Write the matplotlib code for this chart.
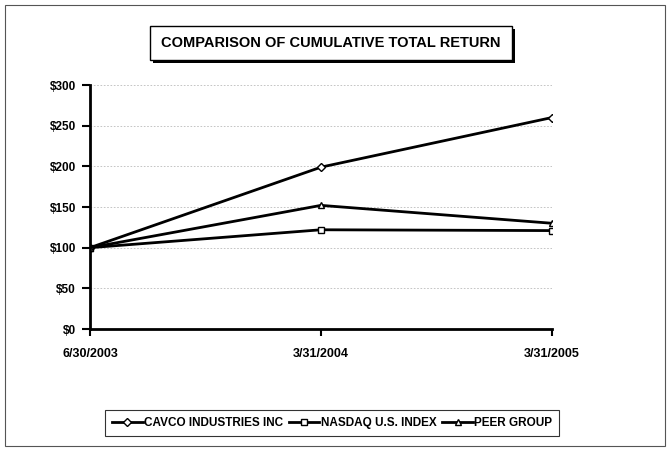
import matplotlib
matplotlib.use("Agg")
import matplotlib.pyplot as plt
from matplotlib.patches import Rectangle

plt.rcParams['font.family'] = ['Liberation Sans', 'DejaVu Sans']

dates = ["6/30/2003", "3/31/2004", "3/31/2005"]
cavco = [100, 199, 260]
nasdaq = [100, 122, 121]
peer = [100, 152, 130]
yticks = [0, 50, 100, 150, 200, 250, 300]
ylabels = ["$0", "$50", "$100", "$150", "$200", "$250", "$300"]

W, H = 670, 451
fig = plt.figure(figsize=(W/100, H/100), dpi=100)
fig.patch.set_facecolor('white')

# outer border
fig.add_artist(Rectangle((5/W, 5/H), 660/W, 441/H, transform=fig.transFigure,
                         fill=False, edgecolor='#555555', lw=0.8))

ax = fig.add_axes([90/W, 1-329/H, 462/W, 244/H])
x = list(range(len(dates)))
mk = dict(markersize=5, markerfacecolor='white', markeredgecolor='black', markeredgewidth=1.0)
ax.plot(x, cavco, color='black', lw=2, marker='D', label='CAVCO INDUSTRIES INC', **{**mk, 'markersize': 4.5})
ax.plot(x, nasdaq, color='black', lw=2, marker='s', label='NASDAQ U.S. INDEX', **mk)
ax.plot(x, peer, color='black', lw=2, marker='^', label='PEER GROUP', **mk)

ax.set_xlim(0, 2)
ax.set_ylim(0, 300)
ax.set_yticks(yticks)
ax.set_yticklabels(ylabels, fontsize=8.5, fontweight='bold')
ax.set_xticks(x)
ax.set_xticklabels(dates, fontsize=9, fontweight='bold')
ax.grid(axis='y', color='#bbbbbb', lw=0.6, ls=(0, (2, 2)))
ax.set_axisbelow(True)
for s in ['top', 'right']:
    ax.spines[s].set_visible(False)
ax.spines['left'].set_linewidth(2)
ax.spines['bottom'].set_linewidth(2)
ax.tick_params(axis='y', length=6, width=1.5, pad=4)
ax.tick_params(axis='x', length=5, width=1.5, pad=9)
for lab in ax.get_xticklabels():
    lab.set_clip_on(False)

# title with shadow box
fig.add_artist(Rectangle((153/W, 1-63/H), 362/W, 34/H, transform=fig.transFigure,
                         facecolor='black', edgecolor='none'))
fig.add_artist(Rectangle((150/W, 1-60/H), 362/W, 34/H, transform=fig.transFigure,
                         facecolor='white', edgecolor='black', lw=1.0))
fig.text(331/W, 1-43/H, "COMPARISON OF CUMULATIVE TOTAL RETURN", ha='center', va='center',
         fontsize=10.5, fontweight='bold')

leg = fig.legend(loc='center', bbox_to_anchor=(332/W, 1-423/H), ncol=3,
                 prop=dict(weight='bold', size=8.5), frameon=True, fancybox=False,
                 edgecolor='black', handlelength=2.6, handletextpad=0.1, columnspacing=0.5,
                 borderpad=0.6, borderaxespad=0)
leg.get_frame().set_linewidth(0.8)

fig.savefig("out.png", dpi=100)
